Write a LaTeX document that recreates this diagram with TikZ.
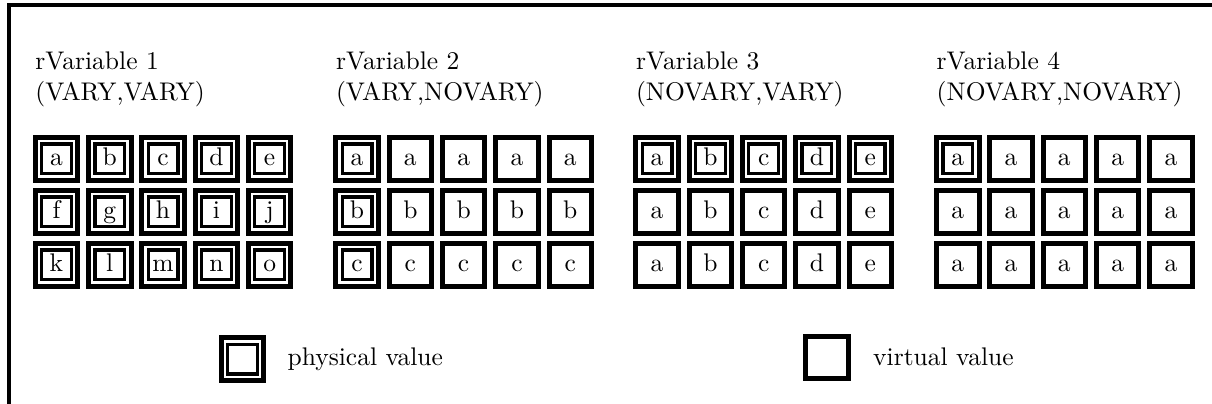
\documentclass[tikz,border=0pt]{standalone}
\newcommand\mytxt[1]{\scalebox{2.55}{#1}}
\tikzset{
  cell/.style={draw, line width=5pt, minimum size=42.5pt, inner sep=0pt,
    text height=16pt, text depth=3.3pt},
  virt/.style={cell},
  phys/.style={cell, path picture={\draw[line width=3.3pt]
     ([shift={(6.4pt,-6.4pt)}]path picture bounding box.north west) rectangle
     ([shift={(-6.4pt,6.4pt)}]path picture bounding box.south east);}},
  txtlbl/.style={anchor=base west, inner sep=0pt},
}
\begin{document}
\begin{tikzpicture}[x=1pt, y=-1pt, line join=miter]
\useasboundingbox (0,0) rectangle (1212,404);
% frame (top and left edges)
\coordinate (frTR) at (1212,5.3);
\coordinate (frTL) at (8.7,5.3);
\coordinate (frBL) at (8.7,404);
\draw[line width=4pt] (frTR) -- (frTL) -- (frBL);

% titles
\foreach \g/\gx/\mode in {1/32.7/{(VARY,VARY)}, 2/333.3/{(VARY,NOVARY)}, 3/633.3/{(NOVARY,VARY)}, 4/934/{(NOVARY,NOVARY)}} {
  \node[txtlbl] (name\g) at (\gx+2.5,70) {\mytxt{rVariable \g}};
  \node[txtlbl] (mode\g) at (\gx+2.5,100) {\mytxt{\mode}};
}

% rVariable 1: every value physical
\foreach \row/\letters in {1/{a,b,c,d,e}, 2/{f,g,h,i,j}, 3/{k,l,m,n,o}}
  \foreach \l [count=\c] in \letters
    \node[phys] (g1-\row-\c) at ({32.7+23.75+53.3*(\c-1)},{158.75+53*(\row-1)}) {\mytxt{\l}};

% rVariable 2: first column physical
\foreach \l [count=\row] in {a,b,c} {
  \node[phys] (g2-\row-1) at (333.3+23.75,{158.75+53*(\row-1)}) {\mytxt{\l}};
  \foreach \c in {2,...,5}
    \node[virt] (g2-\row-\c) at ({333.3+23.75+53.3*(\c-1)},{158.75+53*(\row-1)}) {\mytxt{\l}};
}

% rVariable 3: first row physical
\foreach \l [count=\c] in {a,b,c,d,e} {
  \node[phys] (g3-1-\c) at ({633.3+23.75+53.3*(\c-1)},158.75) {\mytxt{\l}};
  \foreach \row in {2,3}
    \node[virt] (g3-\row-\c) at ({633.3+23.75+53.3*(\c-1)},{158.75+53*(\row-1)}) {\mytxt{\l}};
}

% rVariable 4: one physical value
\foreach \row in {1,2,3}
  \foreach \c in {1,...,5} {
    \ifnum\row\c=11
      \node[phys] (g4-\row-\c) at ({934+23.75+53.3*(\c-1)},{158.75+53*(\row-1)}) {\mytxt{a}};
    \else
      \node[virt] (g4-\row-\c) at ({934+23.75+53.3*(\c-1)},{158.75+53*(\row-1)}) {\mytxt{a}};
    \fi
  }

% legend
\node[phys] (legphys) at (242.5,359) {};
\node[txtlbl] (legphystxt) at (287.5,365) {\mytxt{physical value}};
\node[virt] (legvirt) at (827,357.5) {};
\node[txtlbl] (legvirttxt) at (873,365) {\mytxt{virtual value}};
\end{tikzpicture}
\end{document}
